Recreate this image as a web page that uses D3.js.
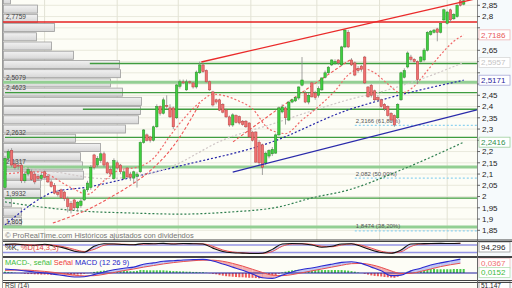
<!DOCTYPE html>
<html>
<head>
<meta charset="utf-8">
<script src="https://cdnjs.cloudflare.com/ajax/libs/d3/7.8.5/d3.min.js"></script>
<style>
  body { margin: 0; background: #fff; }
  svg { display: block; font-family: "Liberation Sans", Arial, sans-serif; }
</style>
</head>
<body>
<svg id="chart" width="512" height="288"></svg>
<script>
// daily candles, oldest first
var opens = [2.04,2.17,2.205,2.145,2.14,2.14,2.07,2.10,2.11,2.10,
  2.09,2.08,2.11,2.09,2.065,2.05,2.02,2.03,2.02,1.99,
  1.97,1.985,1.95,1.96,1.985,2.03,2.04,2.185,2.14,2.16,
  2.19,2.15,2.12,2.08,2.15,2.14,2.08,2.127,2.10,2.082,
  2.09,2.11,2.24,2.274,2.265,2.25,2.31,2.40,2.37,2.405,
  2.394,2.394,2.35,2.49,2.51,2.474,2.51,2.505,2.487,2.55,
  2.585,2.56,2.51,2.465,2.43,2.43,2.41,2.385,2.354,2.318,
  2.36,2.355,2.335,2.335,2.327,2.287,2.287,2.24,2.23,2.15,
  2.18,2.19,2.193,2.274,2.376,2.394,2.34,2.42,2.425,2.438,
  2.495,2.46,2.42,2.505,2.46,2.45,2.474,2.53,2.55,2.585,
  2.59,2.607,2.585,2.665,2.73,2.607,2.594,2.57,2.58,2.62,
  2.487,2.495,2.47,2.44,2.43,2.41,2.40,2.37,2.36,2.35,
  2.43,2.53,2.576,2.62,2.61,2.60,2.60,2.607,2.65,2.72,
  2.73,2.745,2.73,2.785,2.77,2.83,2.79,2.80,2.87,2.855];
var closes = [2.17,2.20,2.14,2.13,2.135,2.07,2.10,2.12,2.075,2.065,
  2.08,2.095,2.085,2.065,2.045,2.015,2.01,1.995,1.99,1.955,
  1.94,1.95,1.975,1.98,2.03,2.06,2.13,2.13,2.17,2.19,
  2.14,2.105,2.10,2.16,2.127,2.11,2.11,2.087,2.085,2.11,
  2.10,2.24,2.296,2.25,2.25,2.31,2.40,2.37,2.43,2.40,
  2.354,2.31,2.496,2.51,2.505,2.51,2.508,2.487,2.553,2.585,
  2.555,2.51,2.474,2.407,2.42,2.384,2.375,2.354,2.318,2.363,
  2.33,2.327,2.32,2.31,2.265,2.25,2.153,2.15,2.13,2.193,
  2.205,2.21,2.274,2.394,2.398,2.35,2.42,2.43,2.44,2.487,
  2.518,2.42,2.45,2.443,2.44,2.48,2.527,2.55,2.575,2.607,
  2.60,2.594,2.665,2.74,2.665,2.585,2.54,2.56,2.565,2.505,
  2.443,2.45,2.43,2.43,2.40,2.39,2.36,2.34,2.318,2.41,
  2.55,2.56,2.638,2.61,2.60,2.52,2.62,2.651,2.73,2.735,
  2.74,2.73,2.77,2.83,2.82,2.785,2.81,2.85,2.85,2.87];
var highs = [2.18,2.21,2.215,2.16,2.15,2.15,2.11,2.13,2.12,2.11,
  2.10,2.105,2.115,2.10,2.075,2.06,2.03,2.035,2.025,2.00,
  1.98,1.99,1.98,1.99,2.035,2.07,2.14,2.19,2.18,2.20,
  2.20,2.155,2.13,2.17,2.16,2.145,2.12,2.13,2.11,2.115,
  2.11,2.245,2.30,2.28,2.27,2.315,2.41,2.405,2.44,2.45,
  2.41,2.40,2.50,2.52,2.52,2.52,2.515,2.51,2.56,2.60,
  2.595,2.565,2.515,2.47,2.435,2.435,2.415,2.39,2.36,2.37,
  2.365,2.36,2.34,2.34,2.33,2.29,2.29,2.25,2.235,2.20,
  2.21,2.22,2.28,2.40,2.41,2.40,2.425,2.435,2.445,2.49,
  2.62,2.47,2.46,2.51,2.47,2.49,2.53,2.56,2.58,2.61,
  2.61,2.61,2.67,2.745,2.74,2.615,2.60,2.58,2.585,2.625,
  2.49,2.50,2.475,2.45,2.435,2.415,2.405,2.375,2.365,2.415,
  2.555,2.57,2.645,2.63,2.615,2.605,2.625,2.66,2.735,2.74,
  2.745,2.75,2.775,2.835,2.825,2.835,2.815,2.855,2.875,2.88];
var lows = [2.03,2.16,2.13,2.12,2.12,2.06,2.06,2.09,2.07,2.055,
  2.07,2.07,2.08,2.06,2.04,2.01,2.00,1.99,1.98,1.93,
  1.925,1.94,1.935,1.95,1.98,2.02,2.03,2.12,2.13,2.15,
  2.13,2.10,2.09,2.075,2.12,2.10,2.075,2.08,2.07,2.06,
  2.04,2.105,2.235,2.245,2.24,2.245,2.305,2.36,2.365,2.39,
  2.35,2.30,2.345,2.48,2.50,2.47,2.50,2.48,2.48,2.545,
  2.55,2.505,2.47,2.40,2.41,2.38,2.37,2.35,2.31,2.31,
  2.325,2.32,2.315,2.305,2.26,2.245,2.15,2.14,2.096,2.14,
  2.17,2.18,2.19,2.27,2.37,2.32,2.335,2.415,2.42,2.43,
  2.49,2.415,2.41,2.44,2.43,2.44,2.47,2.525,2.545,2.58,
  2.585,2.585,2.58,2.66,2.66,2.58,2.535,2.55,2.555,2.50,
  2.44,2.44,2.425,2.42,2.395,2.38,2.355,2.33,2.31,2.345,
  2.425,2.525,2.57,2.60,2.595,2.50,2.595,2.60,2.645,2.715,
  2.725,2.69,2.725,2.78,2.765,2.775,2.785,2.795,2.845,2.85];

// month separators (candle index)
var monthBreaks = [12, 34, 52.5, 74.5, 94.5, 113.5, 134];

// price axis ticks
var priceTicks = d3.range(1.85, 2.851, 0.05);

// volume by price, bins from the top
var profileTop = 2.8955;
var profileStep = 0.041;
var profileVol = [7,34,34,51,33,48,70,116,117,107,119,138,137,135,122,72,97,77,79,80,37,37,8,18,18];

// horizontal levels
var redLevels = [2.7759];
var greenLevels = [2.5914, 2.4623, 2.388, 2.2632, 1.9932];
var greenStarts = [25.7, 0, 23.6, 0, 0];
var wideLevels = [2.5079, 2.1317, 1.865];
var levelLabels = [[2.7759, "2,7759"], [2.5079, "2,5079"], [2.4623, "2,4623"], [2.2632, "2,2632"],
  [2.1317, "2,1317"], [1.9932, "1,9932"], [1.865, "1,865"]];

// fibonacci levels
var fibValues = [2.3166, 2.082, 1.8474];
var fibLabels = ["2,3166 (61,80%)", "2,082 (50,00%)", "1,8474 (38,20%)"];
var fibStart = 106;

// trend lines [index, price]
var upperTrend = [[59.5, 2.598], [143, 2.88]];
var lowerTrend = [[69, 2.109], [143, 2.385]];

// moving averages [index, price]
var ma20 = [[0,2.10],[10,2.11],[20,2.04],[25,2.01],[30,2.07],[35,2.12],[40,2.13],[45,2.17],[50,2.27],
  [55,2.36],[60,2.43],[63,2.455],[66,2.45],[70,2.43],[75,2.39],[80,2.30],[85,2.28],[90,2.34],[95,2.40],
  [100,2.47],[104,2.54],[108,2.57],[112,2.55],[116,2.50],[120,2.46],[124,2.49],[128,2.56],[132,2.63],
  [136,2.69],[139,2.7186]];
var ma50 = [[0,2.14],[15,2.11],[30,2.08],[40,2.09],[50,2.131],[66,2.251],[82,2.327],[92,2.376],
  [104,2.43],[115,2.47],[127,2.527],[139,2.5957]];
var ma100 = [[0,1.874],[11.5,1.998],[14.5,2.02],[25,2.042],[39,2.087],[53,2.136],[80,2.238],
  [104,2.385],[114,2.429],[139,2.5171]];
var ma200 = [[0,1.976],[10.6,1.954],[22.7,1.936],[38,1.927],[53,1.922],[68,1.931],[83,1.954],
  [93,1.994],[104,2.029],[120,2.118],[139,2.2416]];

// red dashed stop curves under the rallies [index, price]
var stopRally1 = [[14.5,1.882],[26.7,1.954],[32.7,2.003],[35.8,2.029],[53,2.265],[59.1,2.416]];
var stopRally2 = [[69.1,2.243],[82.4,2.385],[92.4,2.487],[104.5,2.607]];

// stochastic
var stoIdx = d3.range(0, 140, 3);
var stoK = [85,88,80,78,86,72,55,30,22,70, 90,88,84,82,92,90,93,88,92,90,
  88,55,28,18,15,12,14,45,88,92, 90,80,62,70,88,90,68,40,20,14, 40,88,90,92,93,92,94];
var stoD = [82,86,84,80,82,78,65,45,28,45, 78,88,86,83,87,90,91,90,90,91,
  89,70,40,24,17,14,13,28,70,88, 90,85,70,66,80,89,78,55,30,18, 26,68,88,90,92,92,93];

// macd
var macdIdx = d3.range(0, 140, 3);
var macdLine = [0.015,0.012,0.008,0.004,0.0,-0.005,-0.010,-0.015,-0.014,-0.006,
  0.004,0.012,0.018,0.022,0.033,0.038,0.044,0.046,0.049,0.050,
  0.051,0.045,0.034,0.022,0.010,-0.004,-0.018,-0.020,-0.008,0.004,
  0.013,0.019,0.026,0.033,0.040,0.042,0.036,0.022,0.008,-0.010,
  -0.008,0.008,0.018,0.030,0.038,0.045,0.052];
var signalLine = [0.010,0.011,0.011,0.009,0.006,0.002,-0.003,-0.008,-0.011,-0.010,
  -0.005,0.002,0.009,0.015,0.022,0.028,0.034,0.039,0.043,0.046,
  0.048,0.048,0.044,0.036,0.026,0.014,0.002,-0.008,-0.010,-0.006,
  0.001,0.008,0.015,0.022,0.029,0.035,0.036,0.031,0.021,0.008,
  -0.002,-0.001,0.006,0.015,0.024,0.031,0.0367];
// histogram in thousandths
var macdHist = [5,4,3,1,0,-1,-3,-4,-4,-5, -5,-6,-6,-6,-7,-7,-7,-7,-7,-7,
  -7,-7,-6,-5,-3,-1,1,4,6,8, 9,9,10,10,10,9,9,8,7,7,
  8,11,11,10,10,10,10,10,10,9, 8,7,7,6,6,5,5,4,4,3,
  3,1,-1,-3,-5,-8,-10,-12,-13,-14, -15,-16,-16,-17,-18,-18,-19,-20,-19,-16,
  -14,-12,-8,-3,2,5,8,10,11,12, 12,12,11,11,11,11,11,11,11,11,
  11,11,11,10,9,7,5,2,0,-3, -6,-9,-11,-12,-13,-15,-16,-17,-18,-14,
  -6,0,5,9,10,11,12,13,14,15, 15,14,14,14,14,14,15,15,15,15];

var PLOT = { left: 3, right: 477, top: 0, bottom: 240 };
var STO = { top: 241.5, bottom: 256.5 };
var MACDP = { top: 257.5, bottom: 280.5 };

function comma(v) { return String(+v.toFixed(4)).replace(".", ","); }

function main() {
    var svg = d3.select("#chart");
    var x = d3.scaleLinear().domain([0, 139]).range([5, 463.7]);
    var y = d3.scaleLinear().domain([1.85, 2.85]).range([230.3, 5.3]);

    svg.append("rect").attr("width", 512).attr("height", 288).attr("fill", "#fdfdf6");
    svg.append("rect").attr("x", PLOT.right).attr("width", 512 - PLOT.right).attr("height", 288)
        .attr("fill", "#f6fafc");

    var defs = svg.append("defs");
    defs.append("clipPath").attr("id", "clipMain").append("rect")
        .attr("x", PLOT.left).attr("y", PLOT.top)
        .attr("width", PLOT.right - PLOT.left).attr("height", PLOT.bottom - PLOT.top);
    var grad = defs.append("linearGradient").attr("id", "barGrad")
        .attr("x1", 0).attr("y1", 0).attr("x2", 0).attr("y2", 1);
    grad.append("stop").attr("offset", "0%").attr("stop-color", "#f2f2f2");
    grad.append("stop").attr("offset", "100%").attr("stop-color", "#d6d6d6");

    var g = svg.append("g").attr("clip-path", "url(#clipMain)");
    buildGrid(g, x, y);
    buildProfile(g, y);
    buildLevels(g, x, y);
    buildAverages(g, x, y);
    buildCandles(g, x, y);
    buildTrends(g, x, y);

    g.append("text").attr("x", 5).attr("y", 237.5)
        .attr("fill", "#777").style("font-size", "7.5px")
        .text("\u00a9 ProRealTime.com  Hist\u00f3ricos ajustados con dividendos");

    buildPriceAxis(svg, y);
    buildStochastic(svg, x);
    buildMacd(svg, x);
    buildFrames(svg);
}

function buildGrid(g, x, y) {
    g.selectAll(".hgrid").data(priceTicks).enter().append("line")
        .attr("x1", PLOT.left).attr("x2", PLOT.right)
        .attr("y1", function(d) { return y(d); }).attr("y2", function(d) { return y(d); })
        .attr("stroke", "#e9e9dd").attr("stroke-width", 1);
    g.selectAll(".vgrid").data(monthBreaks).enter().append("line")
        .attr("x1", function(d) { return x(d); }).attr("x2", function(d) { return x(d); })
        .attr("y1", 0).attr("y2", PLOT.bottom)
        .attr("stroke", "#e2e2d4").attr("stroke-width", 1);
}

function buildProfile(g, y) {
    var w = d3.scaleLinear().domain([0, 140]).range([0, 140]);
    g.selectAll(".vbar").data(profileVol).enter().append("rect")
        .attr("x", PLOT.left + 0.5)
        .attr("y", function(d, i) { return y(profileTop - profileStep * i) + 0.8; })
        .attr("width", function(d) { return w(d); })
        .attr("height", function(d, i) {
            return y(profileTop - profileStep * (i + 1)) - y(profileTop - profileStep * i) - 1.2; })
        .attr("fill", "url(#barGrad)")
        .attr("stroke", "#9c9c9c").attr("stroke-width", 0.8)
        .style("display", function(d) { return d > 0 ? null : "none"; });
}

function buildLevels(g, x, y) {
    g.selectAll(".wide").data(wideLevels).enter().append("line")
        .attr("x1", PLOT.left).attr("x2", PLOT.right)
        .attr("y1", function(d) { return y(d); }).attr("y2", function(d) { return y(d); })
        .attr("stroke", "#93cf93").attr("stroke-width", 3);
    g.selectAll(".green").data(greenLevels).enter().append("line")
        .attr("x1", function(d, i) { return Math.max(PLOT.left, x(greenStarts[i])); })
        .attr("x2", PLOT.right)
        .attr("y1", function(d) { return y(d); }).attr("y2", function(d) { return y(d); })
        .attr("stroke", "#3f9c3f").attr("stroke-width", 1.3);
    g.selectAll(".red").data(redLevels).enter().append("line")
        .attr("x1", PLOT.left).attr("x2", PLOT.right)
        .attr("y1", function(d) { return y(d); }).attr("y2", function(d) { return y(d); })
        .attr("stroke", "#e52222").attr("stroke-width", 1.5);

    g.selectAll(".lvlLabel").data(levelLabels).enter().append("text")
        .attr("x", 6).attr("y", function(d) { return y(d[0]) - 2.5; })
        .attr("fill", "#444").style("font-size", "6.5px")
        .text(function(d) { return d[1]; });

    g.selectAll(".fib").data(fibValues).enter().append("line")
        .attr("x1", x(fibStart)).attr("x2", PLOT.right)
        .attr("y1", function(d) { return y(d); }).attr("y2", function(d) { return y(d); })
        .attr("stroke", "#8fd3f0").attr("stroke-width", 1.3).attr("stroke-dasharray", "2,2");
    g.selectAll(".fibLabel").data(fibValues).enter().append("text")
        .attr("x", x(fibStart) + 1).attr("y", function(d) { return y(d) - 2.5; })
        .attr("fill", "#555").style("font-size", "6px")
        .text(function(d, i) { return fibLabels[i]; });
}

function buildAverages(g, x, y) {
    var line = d3.line().curve(d3.curveMonotoneX)
        .x(function(d) { return x(d[0]); }).y(function(d) { return y(d[1]); });
    var mas = [[ma200, "#2f7f4f"], [ma100, "#2424a8"], [ma50, "#cfc6c6"], [ma20, "#f06a6a"]];
    mas.forEach(function(m) {
        g.append("path").attr("d", line(m[0])).attr("fill", "none")
            .attr("stroke", m[1]).attr("stroke-width", 1.2).attr("stroke-dasharray", "2,2");
    });
    [stopRally1, stopRally2].forEach(function(s) {
        g.append("path").attr("d", line(s)).attr("fill", "none")
            .attr("stroke", "#ee5555").attr("stroke-width", 1.1).attr("stroke-dasharray", "3,2");
    });
}

function buildCandles(g, x, y) {
    var idx = d3.range(closes.length);
    var c = g.selectAll(".candle").data(idx).enter().append("g");
    c.append("line")
        .attr("x1", function(i) { return x(i); }).attr("x2", function(i) { return x(i); })
        .attr("y1", function(i) { return y(highs[i]); }).attr("y2", function(i) { return y(lows[i]); })
        .attr("stroke", "#8a8a8a").attr("stroke-width", 0.8);
    c.append("rect")
        .attr("x", function(i) { return x(i) - 1.2; })
        .attr("y", function(i) { return y(Math.max(opens[i], closes[i])); })
        .attr("width", 2.4)
        .attr("height", function(i) { return Math.max(0.8, Math.abs(y(opens[i]) - y(closes[i]))); })
        .attr("fill", function(i) { return closes[i] >= opens[i] ? "#3fcf3f" : "#f07070"; })
        .attr("stroke", function(i) { return closes[i] >= opens[i] ? "#2a8a2a" : "#b84040"; })
        .attr("stroke-width", 0.5);
}

function buildTrends(g, x, y) {
    var line = d3.line().x(function(d) { return x(d[0]); }).y(function(d) { return y(d[1]); });
    g.append("path").attr("d", line(upperTrend)).attr("stroke", "#ea2a2a")
        .attr("stroke-width", 1.3).attr("fill", "none");
    g.append("path").attr("d", line(lowerTrend)).attr("stroke", "#2a2aaa")
        .attr("stroke-width", 1.3).attr("fill", "none");
}

function valueBox(svg, yc, text, color, border, size) {
    svg.append("rect").attr("x", 479).attr("y", yc - 5).attr("width", 31).attr("height", 10)
        .attr("fill", "#fff").attr("stroke", border).attr("stroke-width", 0.8);
    svg.append("text").attr("x", 481).attr("y", yc).attr("dy", "0.35em")
        .attr("fill", color).style("font-size", (size || 8) + "px").text(text);
}

function buildPriceAxis(svg, y) {
    var boxed = [ma20, ma50, ma100, ma200].map(function(m) { return y(m[m.length - 1][1]); });
    var shown = priceTicks.filter(function(d) {
        return boxed.every(function(b) { return Math.abs(y(d) - b) > 8; });
    });
    svg.append("line").attr("x1", PLOT.right + 0.5).attr("x2", PLOT.right + 0.5)
        .attr("y1", 0).attr("y2", PLOT.bottom).attr("stroke", "#888");
    var t = svg.selectAll(".tick").data(priceTicks).enter().append("g");
    t.append("line").attr("x1", PLOT.right).attr("x2", PLOT.right + 3)
        .attr("y1", function(d) { return y(d); }).attr("y2", function(d) { return y(d); })
        .attr("stroke", "#666");
    svg.selectAll(".tickLabel").data(shown).enter().append("text")
        .attr("x", 482).attr("y", function(d) { return y(d); }).attr("dy", "0.35em")
        .attr("fill", "#222").style("font-size", "8px")
        .text(function(d) { return comma(+d.toFixed(2)); });

    valueBox(svg, boxed[0], "2,7186", "#e85a5a", "#f0b4b4");
    valueBox(svg, boxed[1], "2,5957", "#c4c4c4", "#d8d8d8");
    valueBox(svg, boxed[2], "2,5171", "#2a2aa0", "#a8a8d8");
    valueBox(svg, boxed[3], "2,2416", "#2f8f4f", "#9ccf9c");
}

function bandSegments(g, xs, a, b, sx, sy, upColor, downColor) {
    for (var i = 0; i < xs.length - 1; i++) {
        var pts = [[sx(xs[i]), sy(a[i])], [sx(xs[i + 1]), sy(a[i + 1])],
                   [sx(xs[i + 1]), sy(b[i + 1])], [sx(xs[i]), sy(b[i])]];
        var up = (a[i] + a[i + 1]) >= (b[i] + b[i + 1]);
        g.append("polygon").attr("points", pts.map(function(p) { return p.join(","); }).join(" "))
            .attr("fill", up ? upColor : downColor).attr("stroke", "none");
    }
}

function buildStochastic(svg, x) {
    var sy = d3.scaleLinear().domain([0, 100]).range([255, 242.5]);
    var g = svg.append("g");
    g.append("rect").attr("x", PLOT.left).attr("y", STO.top).attr("width", PLOT.right - PLOT.left)
        .attr("height", STO.bottom - STO.top).attr("fill", "#fdfdf6");
    [80, 20].forEach(function(v) {
        g.append("line").attr("x1", PLOT.left).attr("x2", PLOT.right)
            .attr("y1", sy(v)).attr("y2", sy(v)).attr("stroke", "#9494e4").attr("stroke-width", 1.4);
    });
    bandSegments(g, stoIdx, stoK, stoD, x, sy, "#c4c8f4", "#f6baba");
    var line = d3.line().curve(d3.curveMonotoneX)
        .x(function(d) { return x(d[0]); }).y(function(d) { return sy(d[1]); });
    g.append("path").attr("d", line(stoIdx.map(function(d, i) { return [d, stoD[i]]; })))
        .attr("fill", "none").attr("stroke", "#e65050").attr("stroke-width", 1);
    g.append("path").attr("d", line(stoIdx.map(function(d, i) { return [d, stoK[i]]; })))
        .attr("fill", "none").attr("stroke", "#111").attr("stroke-width", 1.1);
    var t = g.append("text").attr("x", 5).attr("y", 249.5).style("font-size", "7.5px");
    t.append("tspan").attr("fill", "#222").text("%K, ");
    t.append("tspan").attr("fill", "#e04040").text("%D(14,3,3)");
    valueBox(svg, 247, "94,296", "#222", "#999");
}

function buildMacd(svg, x) {
    var my = d3.scaleLinear().domain([-0.03, 0.06]).range([281, 257]);
    var g = svg.append("g");
    g.append("rect").attr("x", PLOT.left).attr("y", MACDP.top).attr("width", PLOT.right - PLOT.left)
        .attr("height", MACDP.bottom - MACDP.top).attr("fill", "#fdfdf6");
    g.selectAll(".hist").data(macdHist).enter().append("rect")
        .attr("x", function(d, i) { return x(i) - 1; })
        .attr("y", function(d) { return d >= 0 ? my(d / 1000) : my(0); })
        .attr("width", 2)
        .attr("height", function(d) { return Math.abs(my(d / 1000) - my(0)); })
        .attr("fill", function(d) { return d >= 0 ? "#47c947" : "#ee5a5a"; });
    bandSegments(g, macdIdx, macdLine, signalLine, x, my, "#c0c6f2", "#f4b0b0");
    g.append("line").attr("x1", PLOT.left).attr("x2", PLOT.right)
        .attr("y1", my(0)).attr("y2", my(0)).attr("stroke", "#1c1c9c").attr("stroke-width", 1);
    var line = d3.line().curve(d3.curveMonotoneX)
        .x(function(d) { return x(d[0]); }).y(function(d) { return my(d[1]); });
    g.append("path").attr("d", line(macdIdx.map(function(d, i) { return [d, signalLine[i]]; })))
        .attr("fill", "none").attr("stroke", "#e85050").attr("stroke-width", 1);
    g.append("path").attr("d", line(macdIdx.map(function(d, i) { return [d, macdLine[i]]; })))
        .attr("fill", "none").attr("stroke", "#2a2ad0").attr("stroke-width", 1.1);
    var t = g.append("text").attr("x", 5).attr("y", 265).style("font-size", "7.5px");
    t.append("tspan").attr("fill", "#3cbc3c").text("MACD-, se\u00f1al ");
    t.append("tspan").attr("fill", "#ee3a3a").text("Se\u00f1al ");
    t.append("tspan").attr("fill", "#2424c8").text("MACD (12 26 9)");
    valueBox(svg, my(signalLine[signalLine.length - 1]), "0,0367", "#f07070", "#f0c0c0");
    valueBox(svg, 272.5, "0,0152", "#3cbc3c", "#b4e0b4");

    svg.append("text").attr("x", 5).attr("y", 287.5).attr("fill", "#333")
        .style("font-size", "6.5px").text("RSI (14)");
    valueBox(svg, 286, "51,147", "#222", "#999", 6.5);
}

function buildFrames(svg) {
    var ys = [PLOT.bottom, STO.top, STO.bottom, MACDP.top, MACDP.bottom, 282.5];
    svg.selectAll(".frame").data(ys).enter().append("line")
        .attr("x1", PLOT.left).attr("x2", 512)
        .attr("y1", function(d) { return d; }).attr("y2", function(d) { return d; })
        .attr("stroke", "#444").attr("stroke-width", 1);
    svg.append("line").attr("x1", PLOT.left - 0.5).attr("x2", PLOT.left - 0.5)
        .attr("y1", 0).attr("y2", 288).attr("stroke", "#999");
    svg.append("line").attr("x1", PLOT.right + 0.5).attr("x2", PLOT.right + 0.5)
        .attr("y1", PLOT.bottom).attr("y2", 288).attr("stroke", "#666");
}

main();
</script>
</body>
</html>
